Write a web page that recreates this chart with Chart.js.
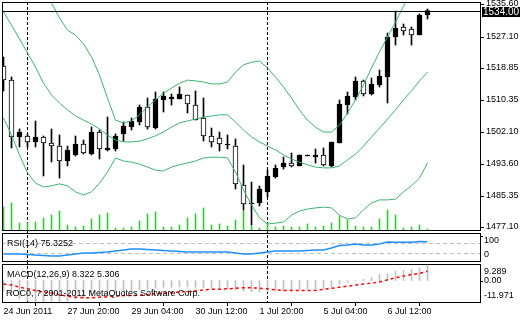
<!DOCTYPE html>
<html>
<head>
<meta charset="utf-8">
<script src="https://cdn.jsdelivr.net/npm/chart.js@4.4.1/dist/chart.umd.min.js"></script>
<style>
  html, body { margin: 0; background: #fff; }
  #wrap { position: relative; width: 520px; height: 320px; }
  #wrap canvas { position: absolute; left: 0; top: 0; }
</style>
</head>
<body>
<div id="wrap">
  <canvas id="main" width="520" height="320"></canvas>
  <canvas id="rsi" width="520" height="320"></canvas>
  <canvas id="macd" width="520" height="320"></canvas>
</div>
<script>
// XAUUSD-like H4 bars, 24 Jun - 6 Jul 2011
const opens  = [1519.50,1515.83,1500.89,1501.15,1499.58,1500.89,1499.32,1498.53,1494.60,1496.17,1499.05,1496.43,1502.20,1497.48,1497.74,1501.68,1503.51,1504.82,1508.75,1503.25,1510.59,1510.85,1510.85,1511.90,1509.28,1505.87,1501.15,1500.63,1498.79,1498.53,1488.31,1483.33,1483.59,1486.47,1490.41,1493.03,1494.07,1493.29,1495.91,1495.65,1496.17,1493.29,1499.32,1509.28,1511.37,1515.57,1512.16,1514.52,1516.62,1527.10,1529.72,1529.20,1527.63,1532.87];
const highs  = [1521.86,1516.62,1502.99,1501.68,1505.08,1501.15,1502.99,1501.41,1498.53,1501.15,1500.10,1503.51,1502.72,1506.13,1501.68,1504.82,1505.87,1509.28,1511.11,1512.69,1512.69,1512.16,1514.00,1511.90,1512.95,1511.11,1503.25,1502.20,1501.41,1500.37,1493.55,1489.09,1488.05,1492.24,1493.55,1495.65,1496.70,1496.17,1496.17,1497.74,1498.01,1499.58,1510.59,1512.69,1516.62,1515.83,1516.35,1518.45,1528.15,1533.92,1530.51,1529.72,1533.13,1534.44];
const lows   = [1512.95,1498.01,1498.27,1498.27,1498.27,1490.67,1494.34,1490.14,1493.29,1495.91,1496.43,1496.17,1495.12,1497.22,1497.22,1499.84,1502.72,1504.03,1502.99,1502.99,1507.44,1509.28,1510.85,1507.18,1505.35,1499.84,1498.27,1497.22,1497.74,1487.26,1481.75,1477.82,1482.80,1485.16,1490.14,1492.50,1493.03,1493.29,1495.91,1494.07,1493.29,1493.03,1499.32,1506.92,1510.59,1511.64,1511.90,1514.00,1509.80,1525.00,1527.63,1525.00,1527.63,1531.82];
const closes = [1515.83,1500.89,1502.20,1499.58,1500.89,1499.32,1498.53,1494.60,1497.48,1499.05,1496.70,1502.20,1497.74,1498.01,1501.15,1503.77,1505.08,1508.75,1503.51,1510.85,1511.64,1511.37,1512.16,1509.54,1505.35,1501.15,1499.58,1499.05,1499.05,1488.57,1483.33,1483.59,1487.26,1490.67,1492.76,1494.07,1493.29,1496.17,1496.17,1496.17,1493.55,1499.58,1509.54,1511.64,1515.57,1512.16,1514.78,1516.88,1527.10,1529.46,1528.67,1527.63,1532.87,1534.00];
const volumes = [920,1080,280,280,320,480,600,760,200,120,160,440,600,680,80,80,120,360,640,720,120,120,200,480,640,880,200,240,160,400,760,160,80,280,120,160,120,120,240,120,160,280,560,400,160,120,120,440,800,600,80,120,200,40];

// Bollinger Bands (20, 2)
const bbUpper  = [1561.4,1559.1,1557.0,1554.4,1549.6,1542.3,1536.0,1532.1,1528.9,1527.6,1525.3,1521.9,1517.1,1511.1,1505.3,1504.6,1505.1,1506.7,1508.8,1510.6,1512.4,1513.7,1515.0,1515.8,1515.6,1515.3,1514.8,1514.8,1515.3,1517.9,1519.8,1520.5,1520.8,1519.0,1516.6,1514.0,1511.1,1508.0,1505.3,1503.5,1502.2,1502.2,1504.0,1507.2,1510.6,1514.5,1519.0,1523.2,1527.1,1531.0,1535.2,1538.9,1542.0,1544.7];
const bbMiddle = [1533.7,1530.2,1526.6,1522.9,1519.2,1515.0,1511.9,1509.8,1508.0,1506.4,1505.3,1504.3,1503.0,1501.4,1500.1,1499.6,1499.6,1499.8,1500.4,1501.2,1502.2,1503.5,1504.6,1505.1,1505.6,1506.1,1506.4,1506.7,1506.7,1504.8,1502.7,1500.9,1499.6,1498.5,1497.5,1496.2,1495.1,1494.3,1493.6,1493.0,1492.8,1492.8,1493.3,1494.9,1496.4,1498.5,1500.9,1503.2,1505.6,1508.0,1510.6,1513.0,1515.6,1517.9];
const bbLower  = [1505.9,1501.4,1496.2,1491.5,1488.8,1487.8,1488.1,1488.6,1488.1,1486.5,1485.7,1486.5,1488.8,1491.7,1495.4,1494.6,1494.3,1493.8,1493.0,1492.2,1492.0,1493.0,1493.6,1494.1,1494.6,1495.4,1495.6,1495.6,1495.4,1491.7,1487.0,1483.1,1479.7,1478.1,1478.3,1478.6,1480.4,1481.5,1482.0,1482.3,1482.5,1482.3,1480.4,1479.4,1479.7,1481.8,1483.6,1484.4,1484.4,1484.6,1486.5,1488.1,1490.1,1494.1];

const rsiValues = [26.1,25.9,25.8,24.2,22.0,20.3,18.4,18.2,21.9,26.0,29.8,30.1,32.0,34.2,38.1,42.0,45.9,46.2,44.1,41.8,40.0,38.2,36.1,34.3,34.0,33.8,34.1,33.9,34.2,30.0,26.2,25.9,30.1,34.0,37.8,38.2,38.0,38.1,40.0,41.9,42.1,50.2,59.8,62.1,65.9,62.0,62.3,66.1,73.8,72.9,73.2,73.0,76.0,75.3252];
const rsiLevels = [70, 30];
const rsiAxisValues = [100, 0];

const macdMain   = [-6.0,-8.5,-10.2,-11.2,-11.8,-11.971,-11.7,-11.8,-11.5,-10.6,-9.8,-8.7,-8.2,-7.6,-7.1,-6.5,-6.0,-5.2,-4.9,-4.2,-3.8,-3.7,-3.5,-3.5,-3.7,-3.9,-4.2,-4.4,-4.5,-5.0,-5.9,-6.3,-6.4,-6.2,-5.9,-5.6,-5.3,-5.0,-4.8,-4.6,-4.5,-3.5,-2.0,-1.0,0.0,0.8,1.6,3.4,3.8,5.3,5.7,6.3,6.9,8.322];
const macdSignal = [-1.9,-2.5,-3.7,-4.6,-5.5,-6.4,-7.0,-7.9,-8.7,-9.3,-9.6,-9.6,-9.3,-9.0,-8.7,-8.4,-8.4,-8.2,-7.9,-7.3,-7.0,-6.7,-6.4,-6.1,-5.8,-5.2,-4.9,-4.9,-4.6,-4.3,-4.0,-4.0,-4.3,-4.6,-5.2,-5.5,-5.5,-5.5,-5.5,-5.5,-4.9,-4.3,-3.7,-3.1,-2.5,-1.95,-1.4,-0.8,0.4,1.6,2.5,3.4,4.0,5.306];
const macdAxisValues = [9.289, 0, -11.971];
const macdAxisLabels = ['9.289', '0.00', '-11.971'];

const priceTicks = [1535.60, 1527.10, 1518.85, 1510.35, 1502.10, 1493.60, 1485.35, 1477.10];
const timeLabels = ['24 Jun 2011', '27 Jun 20:00', '29 Jun 04:00', '30 Jun 12:00', '1 Jul 20:00', '5 Jul 04:00', '6 Jul 12:00'];
const labelBars = [0, 8, 16, 24, 32, 40, 48];
const separatorBars = [3, 33];

const FONT = { family: "'Liberation Sans', Arial, sans-serif", size: 9 };
const FONT_CSS = "9px 'Liberation Sans', Arial, sans-serif";
const BB_COLOR = '#3CB371';
const X_MIN = -0.1875, X_MAX = 59.5625;

Chart.defaults.animation = false;
Chart.defaults.font.family = FONT.family;
Chart.defaults.font.size = FONT.size;

const pts = arr => arr.map((v, i) => ({ x: i, y: v }));

// --- plugins -------------------------------------------------------------
const frame = {
  id: 'frame',
  afterDraw(chart) {
    const { ctx, chartArea: a } = chart;
    const l = Math.floor(a.left), t = Math.floor(a.top), r = Math.floor(a.right), b = Math.floor(a.bottom);
    ctx.save();
    ctx.strokeStyle = '#000';
    ctx.lineWidth = 1;
    ctx.strokeRect(l + 0.5, t + 0.5, r - l, b - t);
    ctx.restore();
  }
};

const separators = {
  id: 'separators',
  beforeDatasetsDraw(chart, args, opts) {
    const { ctx, chartArea: a, scales: { x } } = chart;
    ctx.save();
    ctx.strokeStyle = '#000';
    ctx.lineWidth = 1;
    ctx.setLineDash([3, 2]);
    separatorBars.forEach(bar => {
      const px = Math.floor(x.getPixelForValue(bar)) + 0.5;
      ctx.beginPath();
      ctx.moveTo(px, a.top - (opts.above || 0));
      ctx.lineTo(px, a.bottom);
      ctx.stroke();
    });
    ctx.restore();
  }
};

const levels = {
  id: 'levels',
  beforeDatasetsDraw(chart, args, opts) {
    const { ctx, chartArea: a, scales: { y } } = chart;
    ctx.save();
    ctx.strokeStyle = '#C0C0C0';
    ctx.lineWidth = 1;
    ctx.setLineDash([4, 3]);
    (opts.values || []).forEach(v => {
      const py = Math.round(y.getPixelForValue(v)) + 0.5;
      ctx.beginPath();
      ctx.moveTo(a.left, py);
      ctx.lineTo(a.right, py);
      ctx.stroke();
    });
    ctx.restore();
  }
};

const sideLabels = {
  id: 'sideLabels',
  afterDraw(chart, args, opts) {
    const { ctx, chartArea: a, scales: { y } } = chart;
    ctx.save();
    ctx.font = FONT_CSS;
    ctx.fillStyle = '#000';
    ctx.strokeStyle = '#000';
    ctx.textBaseline = 'middle';
    opts.values.forEach((v, k) => {
      const py = y.getPixelForValue(v);
      if (py > a.top + 2 && py < a.bottom - 2) {
        const r = Math.round(py) + 0.5;
        ctx.beginPath();
        ctx.moveTo(a.right, r);
        ctx.lineTo(a.right + 3, r);
        ctx.stroke();
      }
      const ty = Math.min(Math.max(py, a.top + 7.5), a.bottom - 6.5);
      ctx.fillText(opts.labels[k], a.right + 4, ty);
    });
    ctx.restore();
  }
};

const captions = {
  id: 'captions',
  afterDraw(chart, args, opts) {
    const { ctx, chartArea: a } = chart;
    ctx.save();
    ctx.font = FONT_CSS;
    ctx.fillStyle = '#000';
    ctx.textBaseline = 'middle';
    (opts.lines || []).forEach(l => ctx.fillText(l.text, a.left + l.dx, a.top + l.dy));
    ctx.restore();
  }
};

const lastPrice = {
  id: 'lastPrice',
  afterDraw(chart) {
    const { ctx, chartArea: a, scales: { y } } = chart;
    const v = closes[closes.length - 1];
    const py = Math.round(y.getPixelForValue(v));
    ctx.save();
    ctx.strokeStyle = '#000';
    ctx.lineWidth = 1;
    ctx.beginPath();
    ctx.moveTo(a.left, py + 0.5);
    ctx.lineTo(a.right, py + 0.5);
    ctx.stroke();
    ctx.fillStyle = '#000';
    ctx.fillRect(a.right + 2, py - 4, 40, 10);
    ctx.fillStyle = '#fff';
    ctx.font = "10px 'Liberation Sans', Arial, sans-serif";
    ctx.textBaseline = 'middle';
    ctx.fillText(v.toFixed(2), a.right + 3, py + 1);
    ctx.restore();
  }
};

const hiddenX = { type: 'linear', min: X_MIN, max: X_MAX, offset: false, display: false };
const noHover = { legend: { display: false }, tooltip: { enabled: false } };

// --- main price window ----------------------------------------------------
new Chart(document.getElementById('main'), {
  type: 'bar',
  data: {
    datasets: [
      { type: 'line', label: 'Upper', data: pts(bbUpper), borderColor: BB_COLOR, borderWidth: 1, pointRadius: 0, order: 0 },
      { type: 'line', label: 'Middle', data: pts(bbMiddle), borderColor: BB_COLOR, borderWidth: 1, pointRadius: 0, order: 1 },
      { type: 'line', label: 'Lower', data: pts(bbLower), borderColor: BB_COLOR, borderWidth: 1, pointRadius: 0, order: 2 },
      {
        label: 'Body',
        data: opens.map((o, i) => ({ x: i, y: [o, closes[i]] })),
        backgroundColor: c => closes[c.dataIndex] > opens[c.dataIndex] ? '#000' : '#fff',
        borderColor: '#000', borderWidth: 1, borderSkipped: false,
        barThickness: 5, minBarLength: 1, grouped: false, order: 3
      },
      {
        label: 'Wick',
        data: lows.map((l, i) => ({ x: i, y: [l, highs[i]] })),
        backgroundColor: '#000', borderWidth: 0,
        barThickness: 1, grouped: false, order: 4
      },
      {
        label: 'Volume', yAxisID: 'yv',
        data: pts(volumes),
        backgroundColor: '#32CD32', borderWidth: 0,
        barThickness: 1, grouped: false, order: 5
      }
    ]
  },
  options: {
    responsive: false, events: [],
    layout: { padding: { left: 2, top: 2, right: 0, bottom: 90 } },
    plugins: Object.assign({ separators: { above: 0 } }, noHover),
    scales: {
      x: hiddenX,
      y: {
        position: 'right', min: 1476.51, max: 1536.28,
        afterBuildTicks: s => { s.ticks = priceTicks.map(v => ({ value: v })); },
        afterFit: s => { s.width = 40; s.paddingTop = 0; s.paddingBottom = 0; },
        ticks: { callback: v => v.toFixed(2), padding: 2, labelOffset: -1, color: '#000', font: FONT },
        grid: { drawOnChartArea: false, tickLength: 4, color: '#000' },
        border: { display: false }
      },
      yv: { display: false, min: 0, max: 9120 }
    }
  },
  plugins: [separators, frame, lastPrice]
});

// --- RSI window -----------------------------------------------------------
new Chart(document.getElementById('rsi'), {
  type: 'line',
  data: {
    datasets: [{ label: 'RSI(14)', data: pts(rsiValues), borderColor: '#1E90FF', borderWidth: 1.5, pointRadius: 0 }]
  },
  options: {
    responsive: false, events: [],
    layout: { padding: { left: 2, top: 233, right: 40, bottom: 59 } },
    plugins: Object.assign({
      separators: { above: 3 },
      levels: { values: rsiLevels },
      sideLabels: { values: rsiAxisValues, labels: rsiAxisValues.map(String) },
      captions: { lines: [{ text: 'RSI(14) ' + rsiValues[rsiValues.length - 1].toFixed(4), dx: 5, dy: 11 }] }
    }, noHover),
    scales: {
      x: hiddenX,
      y: { display: false, min: -2, max: 110 }
    }
  },
  plugins: [separators, levels, frame, sideLabels, captions]
});

// --- MACD window ----------------------------------------------------------
new Chart(document.getElementById('macd'), {
  type: 'bar',
  data: {
    datasets: [
      {
        type: 'line', label: 'Signal', data: pts(macdSignal),
        borderColor: '#FF0000', borderWidth: 1.5, borderDash: [3, 3], pointRadius: 0, order: 0
      },
      {
        label: 'MACD', data: pts(macdMain),
        backgroundColor: '#C0C0C0', borderWidth: 0,
        barThickness: 1, grouped: false, order: 1
      }
    ]
  },
  options: {
    responsive: false, events: [],
    layout: { padding: { left: 2, top: 264, right: 40, bottom: 0 } },
    plugins: Object.assign({
      separators: { above: 3 },
      sideLabels: { values: macdAxisValues, labels: macdAxisLabels },
      captions: { lines: [
        { text: 'MACD(12,26,9) ' + macdMain[macdMain.length - 1].toFixed(3) + ' ' + macdSignal[macdSignal.length - 1].toFixed(3), dx: 5, dy: 10.5 },
        { text: 'ROC0, ? 2001-2011 MetaQuotes Software Corp.', dx: 4, dy: 30 }
      ] }
    }, noHover),
    scales: {
      x: {
        type: 'linear', min: X_MIN, max: X_MAX, offset: false, position: 'bottom',
        afterBuildTicks: s => { s.ticks = labelBars.map(v => ({ value: v })); },
        afterFit: s => { s.height = 18; s.paddingLeft = 0; s.paddingRight = 0; },
        ticks: { callback: (v, k) => timeLabels[k], align: 'start', autoSkip: false, maxRotation: 0, padding: 0, color: '#000', font: FONT },
        grid: { drawOnChartArea: false, tickLength: 4, color: '#000' },
        border: { display: false }
      },
      y: { display: false, min: -11.971, max: 9.289 }
    }
  },
  plugins: [separators, frame, sideLabels, captions]
});
</script>
</body>
</html>
